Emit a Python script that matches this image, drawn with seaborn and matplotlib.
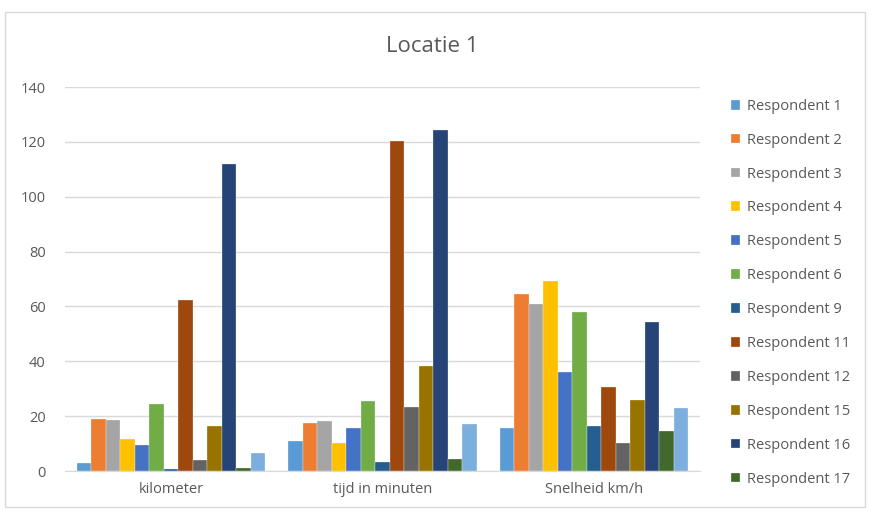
import numpy as np
import pandas as pd
import matplotlib.pyplot as plt
import seaborn as sns
from matplotlib.patches import Rectangle

# Data
categorieen = ["kilometer", "tijd in minuten", "Snelheid km/h"]
respondenten = ["Respondent 1", "Respondent 2", "Respondent 3", "Respondent 4",
                "Respondent 5", "Respondent 6", "Respondent 9", "Respondent 11",
                "Respondent 12", "Respondent 15", "Respondent 16", "Respondent 17",
                "Respondent 18"]
kilometer = [2.8, 18.8, 18.5, 11.6, 9.4, 24.4, 0.7, 62.2, 4.0, 16.4, 111.9, 1.0, 6.4]
tijd_min = [10.8, 17.6, 18.2, 10.2, 15.7, 25.4, 3.2, 120.4, 23.4, 38.3, 124.2, 4.4, 17.1]
snelheid = [15.7, 64.7, 61.0, 69.4, 36.2, 57.8, 16.3, 30.8, 10.2, 25.9, 54.2, 14.6, 23.1]

kleuren = ["#5B9BD5", "#ED7D31", "#A5A5A5", "#FFC000", "#4472C4", "#70AD47",
           "#255E91", "#9E480E", "#636363", "#997300", "#264478", "#43682B",
           "#7CAFDD"]

rows = []
for cat, vals in zip(categorieen, [kilometer, tijd_min, snelheid]):
    for r, v in zip(respondenten, vals):
        rows.append({"categorie": cat, "respondent": r, "waarde": v})
df = pd.DataFrame(rows)

sns.set_style("white")
plt.rcParams["font.family"] = ["Open Sans", "DejaVu Sans"]

fig = plt.figure(figsize=(8.69, 5.11), dpi=100)
ax = fig.add_axes([65 / 869, 1 - 471 / 511, 635 / 869, 384 / 511])

sns.barplot(data=df, x="categorie", y="waarde", hue="respondent",
            palette=kleuren, saturation=1, width=0.89,
            edgecolor="white", linewidth=0.2, ax=ax, legend=True)

ax.set_xlim(-0.5, 2.5)
ax.set_ylim(0, 140)
ax.set_yticks(np.arange(0, 141, 20))
ax.yaxis.grid(True, color="#D9D9D9", linewidth=1)
ax.set_axisbelow(True)
for s in ["top", "right", "left"]:
    ax.spines[s].set_visible(False)
ax.spines["bottom"].set_color("#D9D9D9")
ax.tick_params(axis="both", length=0, labelsize=10.5, colors="#595959", pad=8)
ax.tick_params(axis="y", pad=14)
ax.set_xlabel("")
ax.set_ylabel("")

handles, labels = ax.get_legend_handles_labels()
ax.legend(handles[:12], labels[:12], loc="upper left",
          bbox_to_anchor=(725 / 869, 1 - 93 / 511), bbox_transform=fig.transFigure,
          frameon=False, fontsize=10.5, labelcolor="#595959",
          handlelength=0.65, handleheight=0.65, handletextpad=0.45,
          labelspacing=1.295, borderaxespad=0)

fig.text(432 / 869, 1 - 46 / 511, "Locatie 1", ha="center", va="center",
         fontsize=16, color="#595959")

fig.patches.append(Rectangle((5 / 869, 4 / 511), 860 / 869, 495 / 511,
                             transform=fig.transFigure, fill=False,
                             edgecolor="#D9D9D9", linewidth=1))

fig.savefig("out.png", dpi=100)
